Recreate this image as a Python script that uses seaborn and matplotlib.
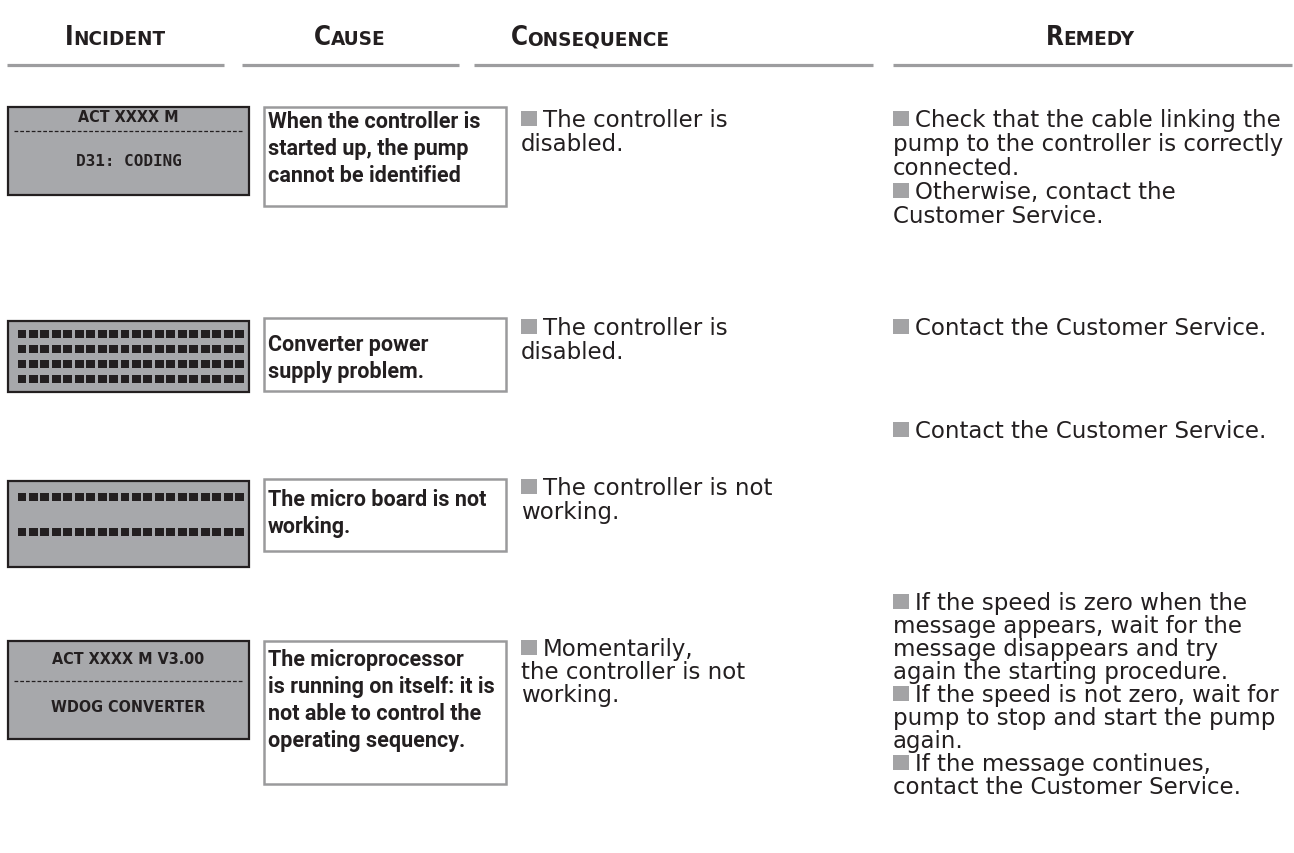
import os
import numpy as np
import pandas as pd
import seaborn as sns
import matplotlib
matplotlib.use("Agg")
import matplotlib.pyplot as plt
import matplotlib.font_manager as fm
from matplotlib.patches import Rectangle

sns.set_theme(style="white")
plt.rcParams['font.family'] = ['DejaVu Sans']

# ---------------- data ----------------
headers = ["Incident", "Cause", "Consequence", "Remedy"]
lcd_line1 = ["ACT XXXX M", "", "", "ACT XXXX M V3.00"]
lcd_line2 = ["D31: CODING", "", "", "WDOG CONVERTER"]
lcd_block_rows = [0, 4, 2, 0]
lcd_block_cols = [0, 20, 20, 0]
causes = [
    ["When the controller is", "started up, the pump", "cannot be identified"],
    ["Converter power", "supply problem."],
    ["The micro board is not", "working."],
    ["The microprocessor", "is running on itself: it is", "not able to control the", "operating sequency."],
]
consequences = [
    ["■ The controller is", "disabled."],
    ["■ The controller is", "disabled."],
    ["■ The controller is not", "working."],
    ["■ Momentarily,", "the controller is not", "working."],
]
remedies = [
    ["■ Check that the cable linking the", "pump to the controller is correctly",
     "connected.", "■ Otherwise, contact the", "Customer Service."],
    ["■ Contact the Customer Service."],
    ["■ Contact the Customer Service."],
    ["■ If the speed is zero when the", "message appears, wait for the",
     "message disappears and try", "again the starting procedure.",
     "■ If the speed is not zero, wait for", "pump to stop and start the pump",
     "again.", "■ If the message continues,", "contact the Customer Service."],
]

# ---------------- layout (pixels) ----------------
W, H = 1294, 854
RULES = [(7, 224), (242, 459), (474, 873), (893, 1292)]
HEADER_CX = [115, 350, 590, 1090]
HEADER_BASE = 45
RULE_Y = 66
LCD_X = (8, 249)
LCD_Y = [(108, 196), (322, 393), (482, 568), (642, 740)]
LCD_TXT = [(118, 132, 162), None, None, (660, 682, 708)]
LCD_ROWS_Y = [None, [335, 350, 365, 380], [498, 533], None]
CAUSE_X = (264, 506)
CAUSE_Y = [(108, 207), (319, 392), (480, 552), (642, 785)]
CAUSE_LINE0 = [122, 345, 500, 660]
CAUSE_DY = 27.0
CONS_X = 521
CONS_LINE0 = [121, 329, 489, 650]
REM_X = 893
REM_LINE0 = [121, 329, 432, 604]
BODY_DY = [24.0, 24.0, 24.0, 23.0]

TXT = "#231f20"
GREY_RULE = "#9d9d9f"
LCD_BG = "#a7a8ab"
BULLET = "#a3a3a5"

fig = plt.figure(figsize=(W / 100, H / 100), dpi=100)
ax = fig.add_axes([0, 0, 1, 1])
ax.set_xlim(0, W)
ax.set_ylim(H, 0)
ax.axis("off")
renderer = fig.canvas.get_renderer()


def find_font(names, fallback_family, weight):
    files = {os.path.basename(f.fname).lower(): f.fname for f in fm.fontManager.ttflist}
    for n in names:
        if n.lower() in files:
            return fm.FontProperties(fname=files[n.lower()])
    for f in fm.fontManager.ttflist:
        if f.name == fallback_family and f.weight in (700, "bold") and f.style == "normal":
            return fm.FontProperties(fname=f.fname)
    return fm.FontProperties(family="DejaVu Sans", weight=weight)


cond_bold = find_font(["LiberationSansNarrow-Bold.ttf", "DejaVuSansCondensed-Bold.ttf",
                       "RobotoCondensed-Bold.ttf", "NotoSans-CondensedBold.ttf",
                       "OpenSans-CondBold.ttf", "OpenSans_Condensed-Bold.ttf"],
                      "Roboto", "bold")
mono_bold = fm.FontProperties(family="DejaVu Sans Mono", weight="bold")
body_fp = fm.FontProperties(family=["DejaVu Sans"], weight="normal")
cause_fp = find_font(["Roboto-Bold.ttf"], "Roboto", "bold")


def width_of(s, fp, size):
    t = ax.text(0, 0, s, fontproperties=fp, fontsize=size)
    w = t.get_window_extent(renderer).width
    t.remove()
    return w


def fit(s, fp, target, cap=None):
    sz = 10 * target / width_of(s, fp, 10)
    if cap is not None:
        sz = min(sz, cap)
    return sz


PX = 100 / 72.0  # px per point

# header sizes (small caps)
test_big, test_small = 10, 7.9
w_test = width_of("I", cond_bold, test_big) + width_of("NCIDENT", cond_bold, test_small)
scale = min(100 / w_test, 2.8)
hdr_big, hdr_small = test_big * scale, test_small * scale

for name, cx, (x0, x1) in zip(headers, HEADER_CX, RULES):
    first, rest = name[0].upper(), name[1:].upper()
    w1 = width_of(first, cond_bold, hdr_big)
    w2 = width_of(rest, cond_bold, hdr_small)
    left = cx - (w1 + w2) / 2
    ax.text(left, HEADER_BASE, first, fontproperties=cond_bold, fontsize=hdr_big,
            color=TXT, va="baseline", ha="left")
    ax.text(left + w1, HEADER_BASE, rest, fontproperties=cond_bold, fontsize=hdr_small,
            color=TXT, va="baseline", ha="left")
    ax.plot([x0, x1], [RULE_Y, RULE_Y], color=GREY_RULE, lw=2.3, solid_capstyle="butt")

# LCD panels
lcd_size = fit("ACT XXXX M V3.00", cond_bold, 157, cap=11.5)
mono_size = fit("D31: CODING", mono_bold, 113, cap=11.5)
lx0, lx1 = LCD_X
for i in range(4):
    y0, y1 = LCD_Y[i]
    ax.add_patch(Rectangle((lx0, y0), lx1 - lx0, y1 - y0, facecolor=LCD_BG,
                           edgecolor=TXT, lw=1.6, zorder=2))
    if LCD_TXT[i] is not None:
        ty1, dy, ty2 = LCD_TXT[i]
        ax.text((lx0 + lx1) / 2, ty1, lcd_line1[i], fontproperties=cond_bold,
                fontsize=lcd_size, color=TXT, ha="center", va="center", zorder=3)
        ax.plot([lx0 + 6, lx1 - 6], [dy, dy], color=TXT, lw=0.9,
                ls=(0, (3.0, 1.6)), zorder=3)
        fp2 = mono_bold if i == 0 else cond_bold
        sz2 = mono_size if i == 0 else lcd_size
        ax.text((lx0 + lx1) / 2, ty2, lcd_line2[i], fontproperties=fp2,
                fontsize=sz2, color=TXT, ha="center", va="center", zorder=3)
    if lcd_block_rows[i]:
        ncol = lcd_block_cols[i]
        inner0, inner1 = lx0 + 9.5, lx1 - 5
        pitch = (inner1 - inner0) / (ncol - 0.22)
        bw = pitch * 0.78
        bh = 7.5
        for ry in LCD_ROWS_Y[i]:
            for c in range(ncol):
                ax.add_patch(Rectangle((inner0 + c * pitch, ry - bh / 2), bw, bh,
                                       facecolor=TXT, edgecolor="none", zorder=3))

# Cause boxes
cx0, cx1 = CAUSE_X
cause_size = fit("When the controller is", cause_fp, 228, cap=15.5)
for i in range(4):
    y0, y1 = CAUSE_Y[i]
    ax.add_patch(Rectangle((cx0, y0), cx1 - cx0, y1 - y0, facecolor="white",
                           edgecolor="#9a9a9c", lw=1.8, zorder=2))
    for k, line in enumerate(causes[i]):
        yc = CAUSE_LINE0[i] + k * CAUSE_DY
        ax.text(cx0 + 4, yc + 0.26 * cause_size * PX, line, fontproperties=cause_fp,
                fontsize=cause_size, color=TXT, ha="left", va="baseline", zorder=3)

# body text with grey square bullets
body_size = fit("Check that the cable linking the", body_fp, 377, cap=16.5)
bsz = 0.68 * body_size * PX


def draw_block(lines, x, y0, dy):
    for k, line in enumerate(lines):
        yc = y0 + k * dy
        base = yc + 0.27 * body_size * PX
        tx = x
        if line.startswith("■ "):
            ax.add_patch(Rectangle((x, base - bsz), bsz, bsz, facecolor=BULLET,
                                   edgecolor="none", zorder=3))
            tx = x + 22
            line = line[2:]
        ax.text(tx, base, line, fontproperties=body_fp, fontsize=body_size,
                color=TXT, ha="left", va="baseline", zorder=3)


for i in range(4):
    draw_block(consequences[i], CONS_X, CONS_LINE0[i], BODY_DY[i])
    draw_block(remedies[i], REM_X, REM_LINE0[i], BODY_DY[i])

fig.savefig("out.png", dpi=100, facecolor="white")
